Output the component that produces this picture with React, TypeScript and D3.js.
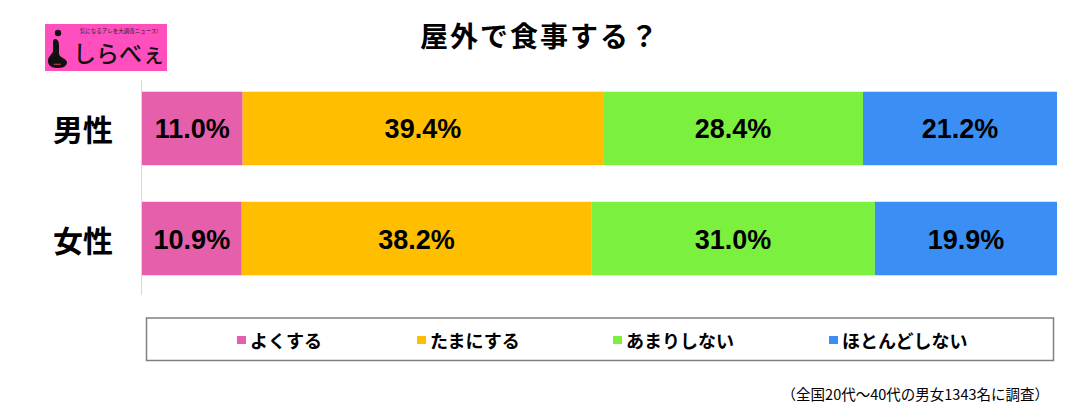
import React from "react";
import * as d3 from "d3";

const categories = ["男性", "女性"];
const seriesNames = ["よくする", "たまにする", "あまりしない", "ほとんどしない"];
const male = [11.0, 39.4, 28.4, 21.2];
const female = [10.9, 38.2, 31.0, 19.9];
const seriesColors = ["#E65FAB", "#FFBF00", "#7CF03E", "#3B8EF3"];
const legendX = [237, 417, 613, 829];
const title = "屋外で食事する？";
const footnote = "（全国20代～40代の男女1343名に調査）";

const W = 1090;
const H = 407;
const JP = "'Noto Sans CJK JP', 'Noto Sans', sans-serif";
const NUM = "'Liberation Sans', Arial, sans-serif";

export default function App() {
  const rows = [male, female];
  const x = d3.scaleLinear().domain([0, 100]).range([142, 1057]);
  const y = d3.scaleBand().domain(categories).range([73, 294]).paddingInner(0.332).paddingOuter(0.17);

  return (
    <svg width={W} height={H} style={{ position: "absolute", left: 0, top: 0, background: "#fff" }}>
      <rect x={0} y={0} width={W} height={H} fill="#fff" />
      {/* logo */}
      <g>
        <rect x={45} y={24} width={122} height={47} fill="#FF4FBF" />
        <circle cx={58} cy={33} r={3.2} fill="#111" />
        <path d="M55,39 C58,39 59,42 59,46 L59,54 C60,58 66,58 67,62 C67,67 62,68 57,68 C51,68 48,65 48,61 C48,56 52,55 53,51 L53,42 C53,40 54,39 55,39 Z" fill="#111" />
        <text x={57} y={65} fontSize={3} fill="#FF4FBF" textAnchor="middle" fontFamily={NUM}>●●●●</text>
        <text x={119} y={33} fontSize={5.5} fill="#222" textAnchor="middle" fontFamily={JP}>気になるアレを大調査ニュース!</text>
        <text x={73} y={62} fontSize={23} fill="#111" fontFamily={JP} fontWeight={500}>しらべぇ</text>
      </g>
      {/* title */}
      <text x={540} y={35} fontSize={28} fontWeight="bold" letterSpacing={2} textAnchor="middle" dominantBaseline="central" fontFamily={JP} fill="#000">{title}</text>
      {/* axis line */}
      <line x1={141.5} x2={141.5} y1={80} y2={295} stroke="#d9d9d9" strokeWidth={1} />
      {/* bars */}
      {categories.map((c, i) => {
        const vals = rows[i];
        let acc = 0;
        const yy = y(c)!;
        const bh = y.bandwidth();
        return (
          <g key={c}>
            <text x={83} y={yy + bh / 2} fontSize={30} fontWeight="bold" textAnchor="middle" dominantBaseline="central" fontFamily={JP} fill="#000">{c}</text>
            {vals.map((v, j) => {
              const x0 = x(acc);
              acc += v;
              const x1 = x(acc);
              return (
                <g key={j}>
                  <rect x={x0} y={yy} width={x1 - x0} height={bh} fill={seriesColors[j]} />
                  <text x={(x0 + x1) / 2} y={yy + bh / 2 + 1} fontSize={27} fontWeight="bold" textAnchor="middle" dominantBaseline="central" fontFamily={NUM} fill="#000">{v.toFixed(1)}%</text>
                </g>
              );
            })}
          </g>
        );
      })}
      {/* legend */}
      <rect x={146.5} y={318} width={907} height={42.5} fill="none" stroke="#808080" strokeWidth={1.5} />
      {seriesNames.map((s, j) => (
        <g key={s}>
          <rect x={legendX[j]} y={336} width={9} height={8} fill={seriesColors[j]} />
          <text x={legendX[j] + 13} y={340} fontSize={18} fontWeight="bold" dominantBaseline="central" fontFamily={JP} fill="#000">{s}</text>
        </g>
      ))}
      {/* footnote */}
      <text x={1049} y={393} fontSize={14.5} textAnchor="end" dominantBaseline="central" fontFamily={JP} fill="#000">{footnote}</text>
    </svg>
  );
}
